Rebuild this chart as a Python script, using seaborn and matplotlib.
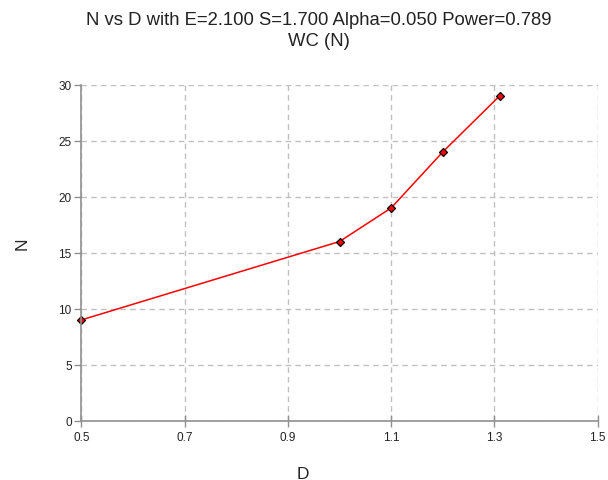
import matplotlib
matplotlib.use("Agg")
import matplotlib.pyplot as plt
import seaborn as sns
import pandas as pd

# values
d_vals = [0.5, 1.0, 1.1, 1.2, 1.31]
n_vals = [9, 16, 19, 24, 29]
x_ticks = [0.5, 0.7, 0.9, 1.1, 1.3, 1.5]
y_ticks = [0, 5, 10, 15, 20, 25, 30]

df = pd.DataFrame({"D": d_vals, "N": n_vals})

sns.set_style("white")
plt.rcParams['font.family'] = ['Liberation Sans', 'DejaVu Sans']

fig = plt.figure(figsize=(6.08, 4.81), dpi=100)
ax = fig.add_axes([0.134, 0.1233, 0.849, 0.6985])

sns.lineplot(data=df, x="D", y="N", ax=ax, color="red", linewidth=1.1,
             marker="D", markersize=4.5, markerfacecolor="red",
             markeredgecolor="black", markeredgewidth=0.9, clip_on=False)

ax.set_xlim(0.5, 1.5)
ax.set_ylim(0, 30)
ax.set_xticks(x_ticks)
ax.set_yticks(y_ticks)
ax.set_xticklabels([f"{v:.1f}" for v in x_ticks], fontsize=8.5)
ax.set_yticklabels([str(v) for v in y_ticks], fontsize=8.5)

ax.grid(True, color="#c0c0c0", linestyle=(0, (4, 3)), linewidth=1)
for s in ["top", "right"]:
    ax.spines[s].set_visible(False)
for s in ["left", "bottom"]:
    ax.spines[s].set_color("#909090")
    ax.spines[s].set_linewidth(1.2)
ax.tick_params(axis="y", direction="out", length=5, width=1, color="#909090",
               left=True, pad=2, labelcolor="#222222")
ax.tick_params(axis="x", direction="inout", length=9, width=1, color="#909090",
               bottom=True, pad=3, labelcolor="#222222")

ax.set_xlabel("D", fontsize=12.5, va="center")
ax.set_ylabel("N", fontsize=12.5, rotation=90, va="center")
ax.xaxis.set_label_coords(0.429, -0.156)
ax.yaxis.set_label_coords(-0.115, 0.529)

fig.text(0.525, 0.958, "N vs D with E=2.100 S=1.700 Alpha=0.050 Power=0.789",
         ha="center", va="center", fontsize=13.3, color="#222222")
fig.text(0.525, 0.913, "WC (N)", ha="center", va="center", fontsize=13.3,
         color="#222222")

fig.savefig("out.png", dpi=100)
